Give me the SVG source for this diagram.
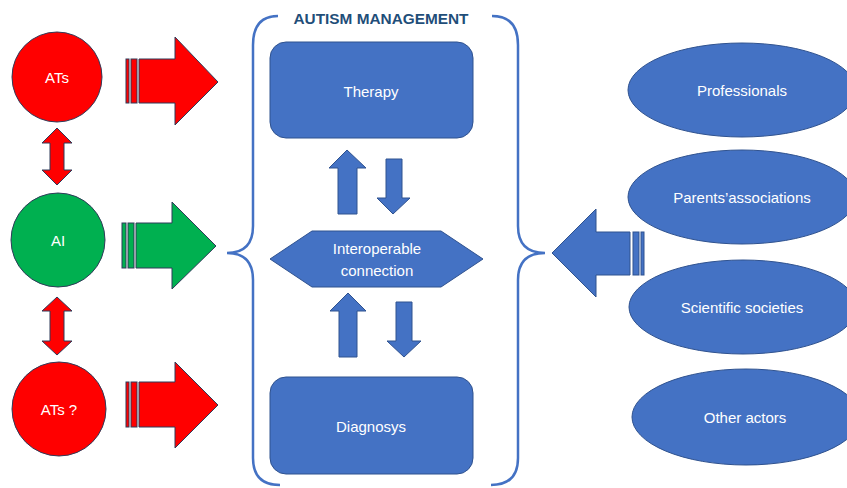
<svg xmlns="http://www.w3.org/2000/svg" width="847" height="488" viewBox="0 0 847 488">
<style>
.t{font-family:"Liberation Sans",Arial,sans-serif;font-size:15px;fill:#fff;text-anchor:middle;dominant-baseline:central}
.red{fill:#FF0000;stroke:#2F3B59;stroke-width:1}
.grn{fill:#00B050;stroke:#2F3B59;stroke-width:1}
.blu{fill:#4472C4;stroke:#2F528F;stroke-width:1}
.brace{fill:none;stroke:#4472C4;stroke-width:2.5}
</style>
<rect width="847" height="488" fill="#fff"/>
<g id="title"><text x="381" y="19" font-family="Liberation Sans,Arial,sans-serif" font-size="14" font-weight="bold" fill="#1F4E79" text-anchor="middle" dominant-baseline="central" textLength="175" lengthAdjust="spacingAndGlyphs">AUTISM MANAGEMENT</text></g>
<g id="braces">
<path class="brace" d="M278,16 Q253,16 253,45 V226 Q253,253 227,253 Q253,253 253,280 V458 Q253,485 280,485"/>
<path class="brace" d="M492,16 Q518,16 518,45 V226 Q518,253 545,253 Q518,253 518,280 V458 Q518,485 491,485"/>
</g>
<g id="ATs"><circle class="red" cx="57" cy="77" r="45"/><text class="t" x="57" y="77">ATs</text></g>
<g id="AI"><circle class="grn" cx="58" cy="240" r="47"/><text class="t" x="58" y="240">AI</text></g>
<g id="ATsQ"><circle class="red" cx="59" cy="409" r="47"/><text class="t" x="59" y="409">ATs ?</text></g>
<g id="Therapy"><rect class="blu" x="270" y="42" width="203" height="96" rx="16"/><text class="t" x="371" y="91">Therapy</text></g>
<g id="Diagnosys"><rect class="blu" x="270" y="377" width="203" height="97" rx="16"/><text class="t" x="371" y="426">Diagnosys</text></g>
<g id="Interoperable"><polygon class="blu" points="270,259 312,231 441,231 483,259 441,287 312,287"/><text class="t" x="377" y="248">Interoperable</text><text class="t" x="377" y="270">connection</text></g>
<g id="Professionals"><ellipse class="blu" cx="742" cy="90" rx="114" ry="47"/><text class="t" x="742" y="90">Professionals</text></g>
<g id="Parents"><ellipse class="blu" cx="742" cy="197" rx="114" ry="47"/><text class="t" x="742" y="197">Parents’associations</text></g>
<g id="Scientific"><ellipse class="blu" cx="743" cy="307" rx="114" ry="47"/><text class="t" x="742" y="307">Scientific societies</text></g>
<g id="Other"><ellipse class="blu" cx="746" cy="417" rx="114" ry="48"/><text class="t" x="745" y="417">Other actors</text></g>
<g id="connectors">
<polygon class="red" points="57,128 72,143 64,143 64,170 72,170 57,185 42,170 50,170 50,143 42,143"/>
<polygon class="red" points="57,297 72,311 64,311 64,341 72,341 57,355 42,341 50,341 50,311 42,311"/>
<g class="red"><rect x="126" y="59" width="3" height="44"/><rect x="131" y="59" width="6" height="44"/><polygon points="139,59 175,59 175,37 218,82 175,125 175,103 139,103"/></g>
<g class="grn"><rect x="122" y="223" width="4" height="45"/><rect x="128" y="223" width="6" height="45"/><polygon points="136,223 172,223 172,202 216,246 172,289 172,268 136,268"/></g>
<g class="red"><rect x="126" y="382" width="3" height="45"/><rect x="131" y="382" width="6" height="45"/><polygon points="139,382 175,382 175,362 218,405 175,448 175,427 139,427"/></g>
<g class="blu"><rect x="641" y="232" width="3" height="43"/><rect x="633" y="232" width="6" height="43"/><polygon points="630,232 596,232 596,209 552,253 596,297 596,275 630,275"/></g>
<polygon class="blu" points="347,150 366,168 357,168 357,214 338,214 338,168 329,168"/>
<polygon class="blu" points="393,214 410,198 402,198 402,159 386,159 386,198 377,198"/>
<polygon class="blu" points="348,293 366,311 357,311 357,357 339,357 339,311 330,311"/>
<polygon class="blu" points="404,357 421,341 412,341 412,302 396,302 396,341 387,341"/>
</g>
</svg>
